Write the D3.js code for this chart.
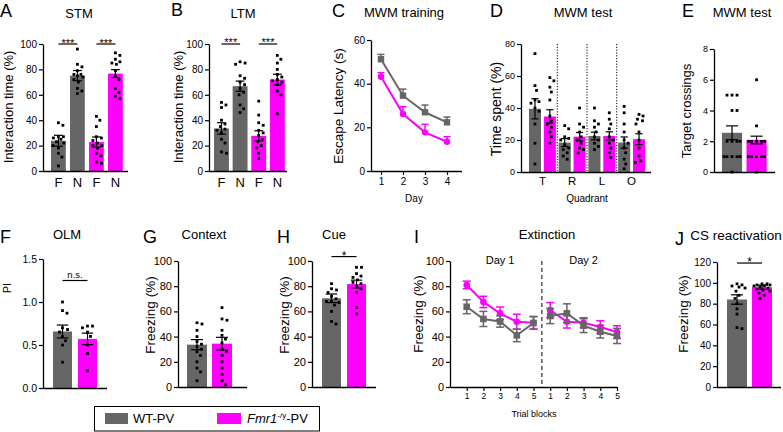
<!DOCTYPE html>
<html><head><meta charset="utf-8">
<script src="https://cdn.jsdelivr.net/npm/d3@7"></script>
<style>body{margin:0;background:#fff}svg{font-family:"Liberation Sans",Arial,sans-serif}</style>
</head><body><svg id="c" width="783" height="432"></svg>
<script>
const GRAY = "#666666", MAG = "#ff00ff";

// ---------- DATA ----------
// A STM
const stmCats = ["F", "N", "F", "N"];
const stmGroup = ["WT", "WT", "KO", "KO"];
const stmMeans = [23.8, 75.1, 22.8, 76.7];
const stmSem = [4.3, 4, 4, 3.1];
const stmPoints = [
  [38, 36, 27, 27, 26, 25, 23, 22, 20, 18, 14, 11, 4],
  [96, 84, 82, 79, 76, 76, 75, 74, 72, 70, 65, 63, 61],
  [43, 40, 35, 27, 26, 24, 22, 20, 20, 18, 14, 12, 7, 6],
  [93, 91, 88, 86, 85, 84, 79, 75, 72, 65, 62, 59, 57]
];
// B LTM
const ltmCats = ["F", "N", "F", "N"];
const ltmGroup = ["WT", "WT", "KO", "KO"];
const ltmMeans = [33.5, 66.8, 27.7, 72];
const ltmSem = [4.5, 4, 4, 4.2];
const ltmPoints = [
  [54, 52, 50, 40, 37, 35, 33, 32, 30, 25, 22, 15, 14],
  [86, 85, 84, 75, 73, 70, 68, 65, 62, 60, 52, 49, 46],
  [55, 44, 38, 36, 32, 30, 28, 25, 23, 20, 18, 14, 10],
  [91, 88, 85, 80, 76, 74, 72, 71, 70, 68, 63, 60, 45]
];
// C MWM training
const trainDays = [1, 2, 3, 4];
const trainWT = [51.2, 34.5, 26.9, 22.3];
const trainWTsem = [2.2, 3, 3.3, 2.4];
const trainKO = [43.2, 26.1, 17.7, 13.4];
const trainKOsem = [1.8, 3.4, 3.7, 2.3];
// D MWM test
const quadrants = ["T", "R", "L", "O"];
const quadGroup = ["WT", "KO", "WT", "KO", "WT", "KO", "WT", "KO"];
const quadMeans = [39.5, 34.7, 18.4, 22.1, 22.5, 22.5, 18.4, 20.5];
const quadSem = [6.3, 4.2, 2.5, 2.6, 2.4, 2.6, 3.5, 3.4];
const quadPoints = [
  [74, 54, 51, 45, 44, 43, 40, 38, 30, 18, 5],
  [59, 57, 53, 50, 45, 35, 32, 30, 28, 25, 22, 18],
  [29, 27, 22, 21, 20, 17, 15, 14, 12, 10, 8],
  [40, 30, 28, 25, 22, 20, 18, 15, 14, 12],
  [40, 32, 30, 28, 25, 22, 20, 18, 16, 14],
  [37, 33, 30, 27, 22, 20, 18, 15, 12, 9],
  [41, 37, 30, 25, 20, 18, 15, 12, 8, 5, 2],
  [36, 35, 33, 32, 30, 25, 20, 15, 10, 7, 6]
];
// E Target crossings
const crossGroup = ["WT", "KO"];
const crossMeans = [2.55, 2.08];
const crossSem = [0.45, 0.25];
const crossPoints = [
  [5, 5, 5, 4, 4, 2, 2, 2, 2, 1, 1, 1, 1, 1, 0],
  [6, 3, 2, 2, 2, 2, 2, 1, 1, 1, 1, 1, 0]
];
// F OLM
const olmGroup = ["WT", "KO"];
const olmMeans = [0.657, 0.571];
const olmSem = [0.075, 0.067];
const olmPoints = [
  [1.0, 0.9, 0.87, 0.7, 0.68, 0.65, 0.6, 0.55, 0.5, 0.3],
  [0.72, 0.72, 0.7, 0.65, 0.6, 0.5, 0.4, 0.2]
];
// G Context
const ctxGroup = ["WT", "KO"];
const ctxMeans = [33.6, 34.4];
const ctxSem = [4, 5];
const ctxPoints = [
  [51, 50, 45, 40, 36, 34, 32, 30, 28, 25, 20, 15, 12, 5],
  [63, 54, 53, 45, 41, 38, 35, 30, 28, 25, 20, 15, 10, 5, 2]
];
// H Cue
const cueGroup = ["WT", "KO"];
const cueMeans = [70.4, 81.7];
const cueSem = [3.4, 3.1];
const cuePoints = [
  [82, 78, 77, 75, 72, 70, 68, 68, 67, 65, 60, 52, 50],
  [95, 95, 90, 88, 87, 85, 83, 82, 80, 78, 75, 63, 58]
];
// I Extinction
const trialPos = [1, 2, 3, 4, 5, 6, 7, 8, 9, 10];
const trialLabels = [1, 2, 3, 4, 5, 1, 2, 3, 4, 5];
const trialDay = [1, 1, 1, 1, 1, 2, 2, 2, 2, 2];
const extWT = [63.7, 54, 52, 41, 50.8, 56.3, 58.5, 48.7, 43.9, 40.5];
const extWTsem = [5.5, 6, 4.5, 5, 5, 6, 7.5, 5.5, 5, 6];
const extKO = [81, 67.5, 58.5, 51.8, 51, 61, 51.8, 51, 47.6, 43.6];
const extKOsem = [3, 4.5, 5, 6, 5, 6, 5, 4, 5, 5];
// J CS reactivation
const csGroup = ["WT", "KO"];
const csMeans = [84, 95.8];
const csSem = [4.5, 2];
const csPoints = [
  [99, 98, 97, 96, 95, 92, 88, 85, 80, 75, 70, 57, 56],
  [99, 99, 98, 98, 97, 97, 96, 95, 94, 93, 92, 90, 88, 85]
];
const legendLabels = ["WT-PV", "Fmr1"];

// ---------- DRAW ----------
const svg = d3.select("#c");
const col = g => g === "WT" ? GRAY : MAG;

function txt(x, y, s, size, anchor = "middle", rot = false, extra = {}) {
  const t = svg.append("text").attr("x", x).attr("y", y).text(s)
    .attr("font-size", size).attr("text-anchor", anchor).attr("fill", "#000");
  if (rot) t.attr("transform", `rotate(-90,${x},${y})`);
  for (const k in extra) t.attr(k, extra[k]);
  return t;
}

// simple beeswarm constrained to the bar width
function beeswarm(vals, y, cx, half, r) {
  const placed = [], out = [];
  const order = vals.map((v, i) => i).sort((a, b) => vals[b] - vals[a]);
  const minD = 2 * r + 2.2;
  order.forEach(i => {
    const py = y(vals[i]);
    let best = 0, bestD = -1, found = false;
    const maxK = Math.floor(half / 0.5) * 2;
    for (let k = 0; k <= maxK; k++) {
      const o = (k % 2 === 1 ? 1 : -1) * Math.ceil(k / 2) * 0.5;
      const d = placed.length ? d3.min(placed, p => Math.hypot(p.x - (cx + o), p.y - py)) : Infinity;
      if (d >= minD) { best = o; found = true; break; }
      if (d > bestD) { bestD = d; best = o; }
    }
    placed.push({ x: cx + best, y: py });
    out[i] = { x: cx + best, y: py };
  });
  return out;
}

function styleAxis(ax, size) {
  ax.attr("font-family", null).attr("font-size", null);
  ax.select(".domain").attr("stroke", "#000").attr("stroke-width", 1.3);
  ax.selectAll(".tick line").attr("stroke", "#000").attr("stroke-width", 1.2);
  ax.selectAll(".tick text").attr("font-size", size).attr("fill", "#000");
}

function barPanel(o) {
  const y = d3.scaleLinear().domain(o.domain).range([o.yBot, o.yTop]);
  const x = d3.scaleBand().domain(d3.range(o.means.length)).range(o.band)
    .paddingInner(o.pi).paddingOuter(o.po);
  const bw = x.bandwidth();
  const g = svg.append("g");
  g.selectAll(null).data(o.means).join("rect")
    .attr("x", (d, i) => x(i)).attr("width", bw)
    .attr("y", d => y(d)).attr("height", d => y(o.domain[0]) - y(d))
    .attr("fill", (d, i) => col(o.groups[i]));
  o.points.forEach((pts, i) => {
    const pos = beeswarm(pts, y, x(i) + bw / 2, bw / 2 - 1.6, 1.4);
    g.selectAll(null).data(pos).join("rect")
      .attr("x", d => d.x - 1.4).attr("y", d => d.y - 1.4)
      .attr("width", 2.8).attr("height", 2.8).attr("fill", "#000");
  });
  o.means.forEach((m, i) => {
    const cx = x(i) + bw / 2, cw = bw * 0.3;
    const lo = y(m - o.sem[i]), hi = y(m + o.sem[i]);
    g.append("line").attr("x1", cx).attr("x2", cx).attr("y1", lo).attr("y2", hi).attr("stroke", "#000").attr("stroke-width", 1.2);
    [lo, hi].forEach(yy => g.append("line").attr("x1", cx - cw).attr("x2", cx + cw).attr("y1", yy).attr("y2", yy).attr("stroke", "#000").attr("stroke-width", 1.2));
  });
  const ax = g.append("g").attr("transform", `translate(${o.ax0},0)`)
    .call(d3.axisLeft(y).tickValues(o.ticks).tickFormat(o.fmt || d3.format("d")).tickSize(4).tickSizeOuter(0).tickPadding(2));
  styleAxis(ax, o.tickSize);
  g.append("line").attr("x1", o.ax0).attr("x2", o.ax1).attr("y1", o.yBot + 0.5).attr("y2", o.yBot + 0.5)
    .attr("stroke", "#000").attr("stroke-width", 1.3);
  if (o.cats) o.cats.forEach((c, i) => txt(x(i) + bw / 2, o.catY, c, o.catSize));
  if (o.pairCats) o.pairCats.forEach((c, k) => {
    txt((x(2 * k) + x(2 * k + 1) + bw) / 2, o.catY, c, o.catSize);
    if (k < o.pairCats.length - 1) {
      const sx = (x(2 * k + 1) + bw + x(2 * k + 2)) / 2;
      g.append("line").attr("x1", sx).attr("x2", sx).attr("y1", o.yTop).attr("y2", o.yBot)
        .attr("stroke", "#000").attr("stroke-width", 1).attr("stroke-dasharray", "1.2,1.6");
    }
  });
  (o.sig || []).forEach(s => {
    const x1 = x(s.i) + bw / 2, x2 = x(s.j) + bw / 2, yy = y(s.v);
    g.append("line").attr("x1", x1).attr("x2", x2).attr("y1", yy).attr("y2", yy).attr("stroke", "#000").attr("stroke-width", 1.2);
    txt((x1 + x2) / 2, yy + s.dy, s.text, s.size);
  });
  return { x, y };
}

// A
barPanel({ domain: [0, 100], ticks: [0, 20, 40, 60, 80, 100], yBot: 171, yTop: 44, ax0: 43, ax1: 128,
  band: [47.2, 126.6], pi: 0.22, po: 0.2, means: stmMeans, sem: stmSem, points: stmPoints, groups: stmGroup,
  cats: stmCats, catY: 187, catSize: 13, tickSize: 10,
  sig: [{ i: 0, j: 1, v: 100, text: "***", size: 11, dy: 2.5 }, { i: 2, j: 3, v: 100, text: "***", size: 11, dy: 2.5 }] });
txt(0, 17, "A", 18, "start"); txt(79, 18, "STM", 13);
txt(13, 107, "Interaction time (%)", 13, "middle", true);
// B
barPanel({ domain: [0, 100], ticks: [0, 20, 40, 60, 80, 100], yBot: 171, yTop: 44, ax0: 209, ax1: 287,
  band: [210.3, 288.5], pi: 0.2, po: 0.2, means: ltmMeans, sem: ltmSem, points: ltmPoints, groups: ltmGroup,
  cats: ltmCats, catY: 187, catSize: 13, tickSize: 10,
  sig: [{ i: 0, j: 1, v: 100, text: "***", size: 11, dy: 1.5 }, { i: 2, j: 3, v: 100, text: "***", size: 11, dy: 1.5 }] });
txt(171, 16, "B", 18, "start"); txt(243, 18, "LTM", 13);
txt(183, 107, "Interaction time (%)", 13, "middle", true);

// C
(function () {
  const y = d3.scaleLinear().domain([0, 60]).range([171, 40]);
  const x = d3.scaleLinear().domain([1, 4]).range([381, 447]);
  const g = svg.append("g");
  const ay = g.append("g").attr("transform", "translate(371,0)")
    .call(d3.axisLeft(y).tickValues([0, 20, 40, 60]).tickSize(4).tickSizeOuter(0).tickPadding(2));
  styleAxis(ay, 10);
  const ax = g.append("g").attr("transform", "translate(0,171)")
    .call(d3.axisBottom(x).tickValues(trainDays).tickFormat(d3.format("d")).tickSize(4).tickPadding(3));
  styleAxis(ax, 10);
  ax.select(".domain").remove();
  g.append("line").attr("x1", 371).attr("x2", 462).attr("y1", 171.5).attr("y2", 171.5).attr("stroke", "#000").attr("stroke-width", 1.3);
  const series = [{ m: trainKO, s: trainKOsem, c: MAG, shape: "circle" }, { m: trainWT, s: trainWTsem, c: GRAY, shape: "square" }];
  series.forEach(sr => {
    sr.m.forEach((v, i) => {
      const cx = x(trainDays[i]);
      g.append("line").attr("x1", cx).attr("x2", cx).attr("y1", y(v)).attr("y2", y(v + sr.s[i])).attr("stroke", sr.c).attr("stroke-width", 1.5);
      g.append("line").attr("x1", cx - 3.5).attr("x2", cx + 3.5).attr("y1", y(v + sr.s[i])).attr("y2", y(v + sr.s[i])).attr("stroke", sr.c).attr("stroke-width", 1.5);
    });
    g.append("path").datum(sr.m).attr("d", d3.line().x((d, i) => x(trainDays[i])).y(d => y(d)))
      .attr("fill", "none").attr("stroke", sr.c).attr("stroke-width", 2);
    sr.m.forEach((v, i) => {
      if (sr.shape === "circle") g.append("circle").attr("cx", x(trainDays[i])).attr("cy", y(v)).attr("r", 3.2).attr("fill", sr.c);
      else g.append("rect").attr("x", x(trainDays[i]) - 3.2).attr("y", y(v) - 3.2).attr("width", 6.4).attr("height", 6.4).attr("fill", sr.c);
    });
  });
  txt(414, 202, "Day", 10);
})();
txt(332, 17, "C", 18, "start"); txt(404, 17, "MWM training", 13);
txt(343, 106, "Escape Latency (s)", 13.5, "middle", true);

// D
barPanel({ domain: [0, 80], ticks: [0, 20, 40, 60, 80], yBot: 172, yTop: 44, ax0: 521, ax1: 651,
  band: [526, 648], pi: 0.19, po: 0.2, means: quadMeans, sem: quadSem, points: quadPoints, groups: quadGroup,
  pairCats: quadrants, catY: 185, catSize: 11.5, tickSize: 9 });
txt(490, 17, "D", 18, "start"); txt(583, 17, "MWM test", 13);
txt(501, 109, "Time spent (%)", 14, "middle", true);
txt(587, 202, "Quadrant", 10);

// E
barPanel({ domain: [0, 8], ticks: [0, 2, 4, 6, 8], yBot: 172, yTop: 49, ax0: 714, ax1: 775,
  band: [714.6, 774], pi: 0.18, po: 0.3, means: crossMeans, sem: crossSem, points: crossPoints, groups: crossGroup,
  tickSize: 9 });
txt(682, 17, "E", 18, "start"); txt(742, 17, "MWM test", 13);
txt(691, 111, "Target crossings", 13, "middle", true);

// F
barPanel({ domain: [0, 1.5], ticks: [0, 0.5, 1.0, 1.5], fmt: d3.format(".1f"), yBot: 388, yTop: 259, ax0: 43, ax1: 107,
  band: [43, 107], pi: 0.24, po: 0.4, means: olmMeans, sem: olmSem, points: olmPoints, groups: olmGroup,
  tickSize: 10.5, sig: [{ i: 0, j: 1, v: 1.25, text: "n.s.", size: 9.5, dy: -3 }] });
txt(0, 243, "F", 18, "start"); txt(67, 239, "OLM", 13);
txt(11, 288, "PI", 10.5, "middle", true);

// G
barPanel({ domain: [0, 100], ticks: [0, 20, 40, 60, 80, 100], yBot: 387, yTop: 261, ax0: 178, ax1: 247,
  band: [178, 241], pi: 0.2, po: 0.36, means: ctxMeans, sem: ctxSem, points: ctxPoints, groups: ctxGroup,
  tickSize: 11 });
txt(143, 243, "G", 18, "start"); txt(204, 239, "Context", 13);
txt(155, 315, "Freezing (%)", 13.5, "middle", true);

// H
barPanel({ domain: [0, 100], ticks: [0, 20, 40, 60, 80, 100], yBot: 387, yTop: 261, ax0: 312, ax1: 376,
  band: [312, 376], pi: 0.24, po: 0.4, means: cueMeans, sem: cueSem, points: cuePoints, groups: cueGroup,
  tickSize: 11, sig: [{ i: 0, j: 1, v: 103.5, text: "*", size: 12, dy: 3 }] });
txt(277, 243, "H", 18, "start"); txt(334, 239, "Cue", 13);
txt(289, 315, "Freezing (%)", 13.5, "middle", true);

// I
(function () {
  const y = d3.scaleLinear().domain([0, 100]).range([387, 261]);
  const x = d3.scaleLinear().domain([0, 10]).range([450, 617]);
  const g = svg.append("g");
  const ay = g.append("g").attr("transform", "translate(450,0)")
    .call(d3.axisLeft(y).tickValues([0, 20, 40, 60, 80, 100]).tickSize(4).tickSizeOuter(0).tickPadding(2));
  styleAxis(ay, 11);
  const ax = g.append("g").attr("transform", "translate(0,387)")
    .call(d3.axisBottom(x).tickValues(trialPos).tickFormat((d, i) => trialLabels[i]).tickSize(4).tickSizeOuter(0).tickPadding(2));
  styleAxis(ax, 8.5);
  const dx = x(5.5);
  g.append("line").attr("x1", dx).attr("x2", dx).attr("y1", y(100)).attr("y2", y(0))
    .attr("stroke", "#555").attr("stroke-width", 1.5).attr("stroke-dasharray", "4,3");
  const series = [{ m: extKO, s: extKOsem, c: MAG, shape: "circle" }, { m: extWT, s: extWTsem, c: GRAY, shape: "square" }];
  series.forEach(sr => {
    sr.m.forEach((v, i) => {
      const cx = x(trialPos[i]), lo = y(v - sr.s[i]), hi = y(v + sr.s[i]);
      g.append("line").attr("x1", cx).attr("x2", cx).attr("y1", lo).attr("y2", hi).attr("stroke", sr.c).attr("stroke-width", 1.5);
      [lo, hi].forEach(yy => g.append("line").attr("x1", cx - 4).attr("x2", cx + 4).attr("y1", yy).attr("y2", yy).attr("stroke", sr.c).attr("stroke-width", 1.5));
    });
    [1, 2].forEach(day => {
      const idx = trialPos.map((p, i) => i).filter(i => trialDay[i] === day);
      g.append("path").datum(idx).attr("d", d3.line().x(i => x(trialPos[i])).y(i => y(sr.m[i])))
        .attr("fill", "none").attr("stroke", sr.c).attr("stroke-width", 2);
    });
    sr.m.forEach((v, i) => {
      if (sr.shape === "circle") g.append("circle").attr("cx", x(trialPos[i])).attr("cy", y(v)).attr("r", 3.3).attr("fill", sr.c);
      else g.append("rect").attr("x", x(trialPos[i]) - 3.3).attr("y", y(v) - 3.3).attr("width", 6.6).attr("height", 6.6).attr("fill", sr.c);
    });
  });
  txt((x(1) + x(5)) / 2, 264, "Day 1", 11);
  txt((x(6) + x(10)) / 2, 264, "Day 2", 11);
  txt(534, 417, "Trial blocks", 9);
})();
txt(414, 243, "I", 18, "start"); txt(547, 239, "Extinction", 13);
txt(423, 314, "Freezing (%)", 13.5, "middle", true);

// J
barPanel({ domain: [0, 120], ticks: [0, 20, 40, 60, 80, 100, 120], yBot: 387, yTop: 262, ax0: 717, ax1: 781,
  band: [717, 782], pi: 0.2, po: 0.4, means: csMeans, sem: csSem, points: csPoints, groups: csGroup,
  tickSize: 10, sig: [{ i: 0, j: 1, v: 119, text: "*", size: 12, dy: 3 }] });
txt(675, 245, "J", 18, "start"); txt(736, 240, "CS reactivation", 13.5);
txt(688, 314, "Freezing (%)", 13.5, "middle", true);

// Legend
svg.append("rect").attr("x", 94.5).attr("y", 406.5).attr("width", 225).attr("height", 24.5)
  .attr("fill", "none").attr("stroke", "#000").attr("stroke-width", 1);
svg.append("rect").attr("x", 105).attr("y", 413).attr("width", 23).attr("height", 11).attr("fill", GRAY);
svg.append("rect").attr("x", 217).attr("y", 413).attr("width", 24).attr("height", 11).attr("fill", MAG);
txt(133, 423, legendLabels[0], 13, "start");
const lt = txt(247, 423, "", 13, "start");
lt.append("tspan").attr("font-style", "italic").text(legendLabels[1]);
lt.append("tspan").attr("font-size", 8).attr("dy", -5).text("-/y");
lt.append("tspan").attr("dy", 5).text("-PV");
</script></body></html>
